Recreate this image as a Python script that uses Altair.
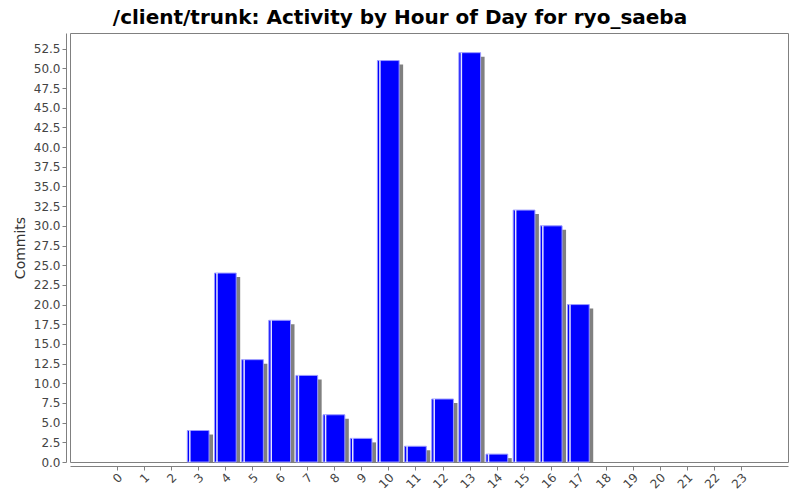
import altair as alt
import pandas as pd

hours = list(range(24))
commits = [0, 0, 0, 4, 24, 13, 18, 11, 6, 3, 51, 2, 8, 52, 1, 32, 30, 20, 0, 0, 0, 0, 0, 0]
y_ticks = [i * 2.5 for i in range(22)]

df = pd.DataFrame({"hour": hours, "commits": commits})
df = df[df["commits"] > 0]

BAR_HALF = 0.4
xscale = alt.Scale(domain=[-1.72, 24.72], nice=False, zero=False)
yscale = alt.Scale(domain=[0, 54.5], nice=False)

xaxis = alt.Axis(values=hours, format="d", labelAngle=-45, labelAlign="right",
                 labelBaseline="middle", title=None, grid=False, offset=4,
                 domainColor="#808080", tickColor="#808080", tickSize=4,
                 labelColor="#444444", labelFont="DejaVu Sans", labelFontSize=12,
                 labelPadding=5, labelOverlap=False, labelOffset=3)
yaxis = alt.Axis(values=y_ticks, format=".1f", title="Commits", grid=False, offset=4,
                 domainColor="#808080", tickColor="#808080", tickSize=4,
                 labelColor="#444444", labelFont="DejaVu Sans", labelFontSize=12,
                 labelPadding=2, labelOverlap=False, labelFlush=False,
                 titleFont="DejaVu Sans", titleFontSize=14,
                 titleFontWeight="normal", titleColor="#333333", titlePadding=6)

xenc = alt.X("x0:Q", scale=xscale, axis=xaxis)
yenc = alt.Y("commits:Q", scale=yscale, axis=yaxis)

base = alt.Chart(df).transform_calculate(
    x0="datum.hour - " + str(BAR_HALF),
    x1="datum.hour + " + str(BAR_HALF),
)

shadow = base.mark_bar(color="#808080", xOffset=4, x2Offset=4, yOffset=4).encode(
    x=xenc, x2="x1:Q", y=yenc, y2=alt.datum(0),
)

bars = base.mark_bar(color="#0000ff", stroke="#9999ff", strokeWidth=1).encode(
    x=xenc, x2="x1:Q", y=yenc, y2=alt.datum(0)
)

highlight = base.mark_rule(color="#ffffff", strokeWidth=1.5, xOffset=2.5, opacity=0.9).encode(
    x=xenc, y=yenc, y2=alt.datum(0)
)

chart = alt.layer(shadow, bars, highlight).properties(
    width=718,
    height=429,
    autosize="none",
    padding={"left": 62, "top": 25, "right": 4, "bottom": 40},
    title=alt.TitleParams(
        "/client/trunk: Activity by Hour of Day for ryo_saeba",
        font="DejaVu Sans", fontSize=20, fontWeight="bold", color="#000000",
        anchor="middle", dx=-29, offset=5,
    ),
).configure_view(stroke="#808080", strokeWidth=1)

chart.save("out.html", embed_options={"renderer": "svg", "actions": False})
